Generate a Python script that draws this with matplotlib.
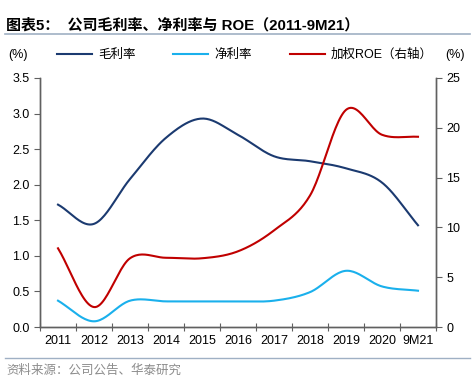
import numpy as np
import matplotlib.pyplot as plt
from matplotlib.lines import Line2D

plt.rcParams['font.family'] = ['Liberation Sans', 'Noto Sans CJK SC']

# 数据
years = ['2011', '2012', '2013', '2014', '2015', '2016', '2017', '2018', '2019', '2020', '9M21']
gross_margin = [1.72, 1.45, 2.08, 2.66, 2.93, 2.70, 2.40, 2.33, 2.23, 2.03, 1.43]
net_margin = [0.37, 0.08, 0.37, 0.36, 0.36, 0.36, 0.37, 0.49, 0.79, 0.57, 0.51]
roe = [7.9, 2.0, 6.9, 6.95, 6.9, 7.6, 9.7, 13.2, 21.8, 19.3, 19.1]

C_GROSS = '#1b3a70'
C_NET = '#1ab0ec'
C_ROE = '#c00000'


def smooth(xs, ys, n=24):
    """Catmull-Rom 平滑曲线（类似 Excel 的平滑线）"""
    xs = np.asarray(xs, float)
    ys = np.asarray(ys, float)
    px = np.concatenate([[2 * xs[0] - xs[1]], xs, [2 * xs[-1] - xs[-2]]])
    py = np.concatenate([[2 * ys[0] - ys[1]], ys, [2 * ys[-1] - ys[-2]]])
    out_x, out_y = [], []
    t = np.linspace(0, 1, n, endpoint=False)
    for i in range(1, len(px) - 2):
        for arr, out in ((px, out_x), (py, out_y)):
            p0, p1, p2, p3 = arr[i - 1], arr[i], arr[i + 1], arr[i + 2]
            v = 0.5 * ((2 * p1) + (-p0 + p2) * t
                       + (2 * p0 - 5 * p1 + 4 * p2 - p3) * t ** 2
                       + (-p0 + 3 * p1 - 3 * p2 + p3) * t ** 3)
            out.extend(v)
    out_x.append(xs[-1])
    out_y.append(ys[-1])
    return np.array(out_x), np.array(out_y)


fig = plt.figure(figsize=(4.74, 3.86), dpi=100)
ax = fig.add_axes([40 / 474, 59 / 386, 396 / 474, 249 / 386])
ax2 = ax.twinx()

x = np.arange(len(years))
sx, sy = smooth(x, gross_margin)
ax.plot(sx, sy, color=C_GROSS, lw=1.5)
sx, sy = smooth(x, net_margin)
ax.plot(sx, sy, color=C_NET, lw=1.5)
sx, sy = smooth(x, roe)
ax2.plot(sx, sy, color=C_ROE, lw=1.5)

ax.set_xlim(-0.5, len(years) - 0.5)
ax.set_ylim(0, 3.5)
ax2.set_ylim(0, 25)
ax.set_yticks(np.arange(0, 3.51, 0.5))
ax.set_yticklabels([f'{v:.1f}' for v in np.arange(0, 3.51, 0.5)])
ax2.set_yticks(np.arange(0, 26, 5))

ax.set_xticks(np.arange(-0.5, len(years), 1.0))
ax.set_xticklabels([])
ax.set_xticks(x, minor=True)
ax.set_xticklabels(years, minor=True)
ax.tick_params(axis='x', which='minor', length=0, pad=6)
ax.tick_params(axis='x', which='major', direction='inout', length=6)

spine_c = '#606060'
for a in (ax, ax2):
    a.spines['top'].set_visible(False)
    for s in ('left', 'right', 'bottom'):
        a.spines[s].set_color(spine_c)
        a.spines[s].set_linewidth(1.0)
    a.tick_params(colors=spine_c, labelcolor='black', labelsize=9)
ax.tick_params(axis='x', which='minor', labelsize=9)
ax.tick_params(axis='y', direction='out', length=4)
ax2.tick_params(axis='y', direction='out', length=4)

# 标题与注释
fig.text(6 / 474, 1 - 25 / 386, '图表5：  公司毛利率、净利率与 ROE（2011-9M21）',
         fontsize=10.8, fontweight='bold', va='center', ha='left')
fig.add_artist(Line2D([5 / 474, 470 / 474], [1 - 34 / 386] * 2, color='#9fb0c4', lw=1.2))
fig.add_artist(Line2D([5 / 474, 470 / 474], [1 - 358 / 386] * 2, color='#9fb0c4', lw=1.0))
fig.text(6 / 474, 1 - 371 / 386, '资料来源：公司公告、华泰研究',
         fontsize=9, color='#8c8c8c', va='center', ha='left')

fig.text(8 / 474, 1 - 55 / 386, '(%)', fontsize=9, va='center', ha='left')
fig.text(465 / 474, 1 - 55 / 386, '(%)', fontsize=9, va='center', ha='right')

handles = [Line2D([], [], color=C_GROSS, lw=1.5),
           Line2D([], [], color=C_NET, lw=1.5),
           Line2D([], [], color=C_ROE, lw=1.5)]
fig.legend(handles, ['毛利率', '净利率', '加权ROE（右轴）'],
           loc='center left', bbox_to_anchor=(57 / 474, 1 - 55 / 386), ncol=3,
           frameon=False, fontsize=9, handlelength=2.8, columnspacing=3.0,
           handletextpad=0.5, borderpad=0, borderaxespad=0)

fig.savefig('out.png', dpi=100)
